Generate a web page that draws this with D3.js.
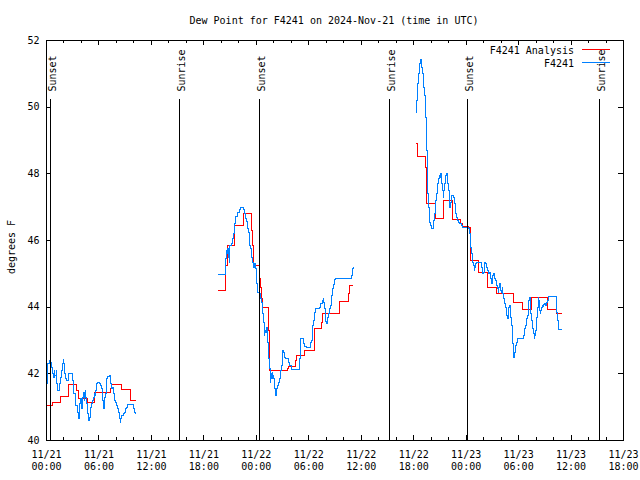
<!DOCTYPE html>
<html>
<head>
<meta charset="utf-8">
<script src="https://cdn.jsdelivr.net/npm/d3@7/dist/d3.min.js"></script>
<style>
  html, body { margin: 0; padding: 0; background: #fff; }
  svg { display: block; }
  text { font-family: "DejaVu Sans Mono", monospace; font-size: 10px; fill: #000; }
</style>
</head>
<body>
<svg id="chart" width="640" height="480"></svg>
<script>
// ---------------- DATA ----------------
// Hours since 2024-11-21 00:00 UTC; null value = gap in record
const startDate = "2024-11-21T00:00:00Z";
const titleText = "Dew Point for F4241 on 2024-Nov-21 (time in UTC)";
const yLabelText = "degrees F";
const seriesNames = ["F4241 Analysis", "F4241"];
const yTicks = [40, 42, 44, 46, 48, 50, 52];
const xMajorHours = [0, 6, 12, 18, 24, 30, 36, 42, 48, 54, 60, 66];

const sunEventNames = ["Sunset", "Sunrise", "Sunset", "Sunrise", "Sunset", "Sunrise"];
const sunEventHours = [0.43, 15.26, 24.32, 39.23, 48.2, 63.2];

// Observed dew point (F4241)
const obsHours = [
  0.02,0.10,0.17,0.32,0.44,0.51,0.59,0.70,0.78,0.86,0.97,1.09,1.20,1.28,1.39,1.50,1.62,1.73,1.85,1.92,
  2.00,2.11,2.23,2.34,2.46,2.91,2.99,3.07,3.14,3.26,3.37,3.49,3.56,3.68,3.75,3.83,3.90,3.98,4.06,4.13,
  4.21,4.29,4.36,4.44,4.51,4.59,4.67,4.74,4.86,4.93,5.01,5.09,5.20,5.31,5.39,5.47,5.54,5.62,5.73,5.85,
  5.96,6.08,6.19,6.27,6.38,6.46,6.53,6.61,6.69,6.76,6.84,6.91,6.99,7.22,7.30,7.37,7.45,7.56,7.68,7.79,
  7.90,8.02,8.13,8.25,8.36,8.44,8.51,8.63,8.74,8.86,8.97,9.09,9.20,9.31,9.89,10.00,10.11,10.19,
  10.20,
  19.60,20.51,20.52,20.59,20.67,20.74,20.82,20.90,20.97,21.05,21.20,21.28,21.35,21.43,21.50,21.58,21.66,21.81,21.89,22.04,
  22.11,22.19,22.50,22.57,22.65,22.72,22.80,22.88,22.95,23.03,23.10,23.18,23.25,23.33,23.41,23.48,23.56,23.63,23.71,23.79,
  23.86,23.94,24.06,24.13,24.40,24.51,24.59,24.67,24.74,24.82,24.90,24.97,25.05,25.12,25.20,25.28,25.35,25.43,25.50,25.58,
  25.66,25.73,25.81,25.89,25.96,26.04,26.11,26.19,26.27,26.34,26.42,26.50,26.57,26.65,26.72,26.80,26.88,26.95,27.03,27.11,
  27.18,27.26,27.33,27.64,27.71,27.79,28.02,28.85,28.93,29.00,29.08,29.31,29.39,29.47,29.70,30.15,30.23,30.30,30.38,30.46,
  30.53,30.61,30.69,30.76,31.22,31.37,31.52,31.64,31.71,31.79,31.87,31.94,32.02,32.09,32.17,32.25,32.32,32.40,32.47,32.55,
  32.63,32.70,32.78,32.89,32.97,33.05,34.80,34.88,34.95,35.03,35.10,
  35.11,
  42.30,42.33,42.40,42.48,42.55,42.63,42.70,42.78,42.86,42.93,43.01,43.09,43.16,43.24,43.31,43.39,43.47,43.54,43.62,43.70,
  43.77,43.85,43.92,44.00,44.15,44.23,44.30,44.38,44.46,44.53,44.61,44.69,44.76,44.84,44.91,44.99,45.07,45.14,45.22,45.30,
  45.37,45.45,45.52,45.60,45.68,45.75,45.83,45.90,45.98,46.06,46.13,46.21,46.29,46.36,46.51,46.59,46.67,46.74,46.82,46.90,
  46.97,47.12,47.20,47.43,47.56,48.20,48.32,48.40,48.47,48.55,48.63,48.70,48.78,48.85,48.93,49.01,49.09,49.16,49.73,49.81,
  49.89,49.96,50.08,50.15,50.23,50.30,50.38,50.46,50.53,50.61,50.69,50.76,50.84,50.91,50.99,51.07,51.14,51.22,51.30,51.37,
  51.45,51.52,51.60,51.68,51.75,51.83,51.90,51.98,52.06,52.13,52.21,52.29,52.36,52.44,52.51,52.59,52.67,52.74,52.82,52.90,
  52.97,53.05,53.12,53.20,53.28,53.35,53.43,53.47,53.54,53.62,53.69,53.77,53.85,53.92,54.08,54.50,54.57,54.65,54.72,54.80,
  54.88,54.95,55.03,55.10,55.18,55.26,55.33,55.41,55.49,55.56,55.64,55.71,55.79,55.87,55.94,56.02,56.10,56.17,56.25,56.32,
  56.40,56.48,56.55,56.63,56.71,56.78,56.86,57.01,57.09,57.16,57.24,57.31,57.39,57.47,58.23,58.30,58.38,58.46,58.53,58.99
];
const obsDewpoint = [
  41.7,42.0,42.3,42.4,42.48,42.35,42.2,42.0,41.9,42.1,41.95,42.1,41.7,41.5,41.5,41.7,41.9,42.1,42.3,42.42,
  42.3,42.0,41.85,41.8,42.0,42.02,41.8,41.6,41.4,41.2,41.05,40.95,40.85,40.65,40.85,41.1,41.25,41.05,40.95,41.3,
  41.45,41.2,41.35,41.5,41.3,41.1,40.95,40.8,40.6,40.7,40.85,41.0,41.1,41.2,41.3,41.4,41.35,41.5,41.7,41.75,
  41.75,41.7,41.65,41.55,41.4,41.2,40.95,41.1,41.3,41.4,41.6,41.85,41.92,41.95,41.85,41.7,41.55,41.6,41.4,41.2,
  41.15,41.05,40.95,40.85,40.65,40.55,40.65,40.75,40.75,40.8,40.85,40.95,41.0,41.08,41.08,40.95,40.85,40.8,
  null,
  44.97,44.97,45.45,45.7,45.6,45.75,45.5,45.35,45.85,45.85,45.9,46.05,46.1,46.2,46.5,46.6,46.73,46.73,46.83,46.83,
  46.93,47.0,47.0,46.93,46.8,46.75,46.65,46.57,46.47,46.35,46.25,46.1,45.85,45.75,45.6,45.5,45.35,45.25,45.2,45.3,
  45.3,45.15,44.7,44.45,44.4,44.25,44.15,44.05,43.8,43.55,43.15,43.3,43.25,43.35,43.4,42.95,42.75,42.45,42.15,41.75,
  42.0,41.85,42.05,41.95,41.85,41.7,41.55,41.35,41.5,41.55,41.65,41.7,41.75,41.85,41.95,42.1,42.25,42.45,42.7,42.65,
  42.55,42.5,42.45,42.43,42.35,42.25,42.13,42.13,42.45,42.95,43.07,43.07,42.9,42.83,42.8,42.8,42.93,43.0,43.15,43.45,
  43.6,43.7,43.85,43.97,44.0,44.1,44.2,44.27,44.15,43.95,43.75,43.57,43.5,43.6,43.7,43.8,43.9,43.97,44.05,44.2,
  44.35,44.55,44.67,44.75,44.83,44.87,44.87,44.95,45.05,45.15,45.2,
  null,
  49.85,50.2,50.45,50.7,51.0,51.2,51.3,51.42,51.35,51.2,51.0,50.8,50.6,50.35,50.1,49.7,48.7,47.9,47.4,47.0,
  46.7,46.55,46.45,46.35,46.35,46.45,46.6,46.8,47.0,47.2,47.4,47.5,47.7,47.85,47.95,47.9,48.0,47.9,47.7,47.5,
  47.3,47.5,47.7,47.85,47.95,48.0,47.8,47.7,47.5,47.2,47.0,47.15,47.3,47.35,47.35,47.3,47.1,46.95,46.8,46.7,
  46.6,46.55,46.5,46.45,46.4,46.4,46.35,46.2,46.0,45.8,45.6,45.4,45.35,45.25,45.1,45.2,45.3,45.35,45.35,45.2,
  45.0,45.05,45.25,45.35,45.3,45.25,45.2,45.1,45.05,45.0,45.05,45.0,44.85,44.7,44.85,44.95,45.0,45.0,44.85,44.8,
  44.7,44.65,44.55,44.45,44.6,44.7,44.6,44.5,44.45,44.6,44.4,44.25,44.15,44.1,44.0,43.85,43.75,43.65,43.8,44.0,
  44.05,43.9,43.7,43.45,43.2,42.9,42.75,42.5,42.65,42.75,42.85,42.95,43.0,43.05,43.07,43.07,43.15,43.25,43.35,43.45,
  43.55,43.65,43.75,43.9,44.2,44.3,44.0,43.8,43.6,43.5,43.35,43.2,43.05,43.15,43.3,43.5,43.7,44.0,44.3,44.2,
  43.9,43.8,43.9,44.0,44.05,44.02,44.08,44.1,44.05,44.1,44.15,44.2,44.25,44.32,44.32,44.1,43.85,43.6,43.32,43.32
];

// Analysis dew point (F4241 Analysis)
const anaHours = [
  0.02,0.71,1.62,2.57,3.45,3.71,4.66,5.50,7.33,7.48,8.57,9.60,10.19,
  10.20,
  19.60,20.45,20.53,20.72,21.48,22.50,23.45,23.55,23.68,24.38,24.50,24.63,24.72,25.40,25.48,27.52,
  27.64,28.47,28.55,29.54,30.61,30.69,31.50,31.56,33.48,33.54,34.55,34.61,35.10,
  35.11,
  42.30,42.40,43.35,43.45,43.52,44.45,45.42,46.40,47.30,47.60,48.30,48.45,48.55,49.37,50.40,51.53,
  53.40,54.48,55.45,57.35,58.38,59.00
];
const anaDewpoint = [
  41.04,41.13,41.31,41.67,41.5,41.25,41.15,41.45,41.55,41.67,41.53,41.19,41.19,
  null,
  44.5,44.9,45.25,45.85,46.45,46.8,46.3,45.85,45.25,44.85,44.6,44.25,43.98,43.3,42.1,42.15,
  42.22,42.4,42.55,42.7,43.1,43.37,43.55,43.8,44.0,44.17,44.4,44.65,44.65,
  null,
  48.9,48.52,48.2,47.6,47.1,46.65,47.2,46.62,46.52,46.42,46.38,46.0,45.4,45.05,44.6,44.42,
  44.15,43.92,44.3,43.92,43.82,43.82
];

// ---------------- CHART ----------------
const W = 640, H = 480;
const plot = { left: 46, right: 623, top: 40, bottom: 440 };
const HOUR = 3600e3;
const t0 = new Date(startDate).getTime();
const toDate = h => new Date(t0 + h * HOUR);

const svg = d3.select("#chart");
svg.append("rect").attr("width", W).attr("height", H).attr("fill", "#fff");

const x = d3.scaleUtc().domain([toDate(0), toDate(66)]).range([plot.left, plot.right]);
const y = d3.scaleLinear().domain([40, 52]).range([plot.bottom, plot.top]);

// Title
svg.append("text").attr("x", 334).attr("y", 23.5).attr("text-anchor", "middle").text(titleText);

// Y label
svg.append("text")
  .attr("transform", "translate(14.5,247) rotate(-90)")
  .attr("text-anchor", "middle").text(yLabelText);

const fmtDay = d3.utcFormat("%m/%d");
const fmtTime = d3.utcFormat("%H:%M");
const majorDates = xMajorHours.map(toDate);
const minorDates = d3.range(0, 67, 2).filter(h => h % 6 !== 0).map(toDate);

function styleAxis(g) {
  g.select(".domain").remove();
  g.selectAll(".tick line").attr("stroke", "#000").attr("shape-rendering", "crispEdges");
  g.selectAll(".tick text").attr("font-family", "DejaVu Sans Mono").attr("font-size", 10).attr("fill", "#000");
}

// bottom major
const gxb = svg.append("g").attr("transform", `translate(0,${plot.bottom})`)
  .call(d3.axisBottom(x).tickValues(majorDates).tickSize(-5).tickFormat(""));
styleAxis(gxb);
gxb.selectAll(".tick text").each(function (d) {
  const t = d3.select(this);
  t.text(null).attr("y", null).attr("dy", null);
  t.append("tspan").attr("x", 0).attr("y", 17.8).text(fmtDay(d));
  t.append("tspan").attr("x", 0).attr("y", 30.3).text(fmtTime(d));
});
// bottom minor
styleAxis(svg.append("g").attr("transform", `translate(0,${plot.bottom})`)
  .call(d3.axisBottom(x).tickValues(minorDates).tickSize(-3).tickFormat("")));
// top major/minor (mirror)
styleAxis(svg.append("g").attr("transform", `translate(0,${plot.top})`)
  .call(d3.axisTop(x).tickValues(majorDates).tickSize(-5).tickFormat("")));
styleAxis(svg.append("g").attr("transform", `translate(0,${plot.top})`)
  .call(d3.axisTop(x).tickValues(minorDates).tickSize(-3).tickFormat("")));

// left Y
const gyl = svg.append("g").attr("transform", `translate(${plot.left},0)`)
  .call(d3.axisLeft(y).tickValues(yTicks).tickSize(-5).tickPadding(6.5).tickFormat(d3.format("d")));
styleAxis(gyl);
// right Y mirror
styleAxis(svg.append("g").attr("transform", `translate(${plot.right},0)`)
  .call(d3.axisRight(y).tickValues(yTicks).tickSize(-5).tickFormat("")));

// Border
svg.append("rect")
  .attr("x", plot.left + 0.5).attr("y", plot.top + 0.5)
  .attr("width", plot.right - plot.left).attr("height", plot.bottom - plot.top)
  .attr("fill", "none").attr("stroke", "#000").attr("stroke-width", 1)
  .attr("shape-rendering", "crispEdges");

// Data lines
function makeSeries(hours, vals) {
  return hours.map((h, i) => ({ t: toDate(h), v: vals[i] }));
}
const line = d3.line()
  .defined(d => d.v !== null)
  .x(d => x(d.t) + 0.5)
  .y(d => y(d.v) + 0.5)
  .curve(d3.curveStepAfter);

const colors = ["#ff0000", "#0080ff"];

svg.append("path").datum(makeSeries(anaHours, anaDewpoint))
  .attr("d", line).attr("fill", "none").attr("stroke", colors[0])
  .attr("stroke-width", 1).attr("shape-rendering", "crispEdges");
svg.append("path").datum(makeSeries(obsHours, obsDewpoint))
  .attr("d", line).attr("fill", "none").attr("stroke", colors[1])
  .attr("stroke-width", 1).attr("shape-rendering", "crispEdges");

// Sunrise / sunset markers
const sun = svg.append("g");
sunEventHours.forEach((h, i) => {
  const sx = Math.round(x(toDate(h))) + 0.5;
  sun.append("line").attr("x1", sx).attr("x2", sx)
    .attr("y1", 99).attr("y2", plot.bottom)
    .attr("stroke", "#000").attr("stroke-width", 1).attr("shape-rendering", "crispEdges");
  sun.append("text")
    .attr("transform", `translate(${sx + 5.5},91.5) rotate(-90)`)
    .attr("text-anchor", "start").text(sunEventNames[i]);
});

// Legend
const legRows = [49.5, 62.5];
seriesNames.forEach((name, i) => {
  svg.append("text").attr("x", 574).attr("y", legRows[i] + 4)
    .attr("text-anchor", "end").text(name);
  svg.append("line").attr("x1", 582).attr("x2", 610)
    .attr("y1", legRows[i]).attr("y2", legRows[i])
    .attr("stroke", colors[i]).attr("stroke-width", 1).attr("shape-rendering", "crispEdges");
});
</script>
</body>
</html>
